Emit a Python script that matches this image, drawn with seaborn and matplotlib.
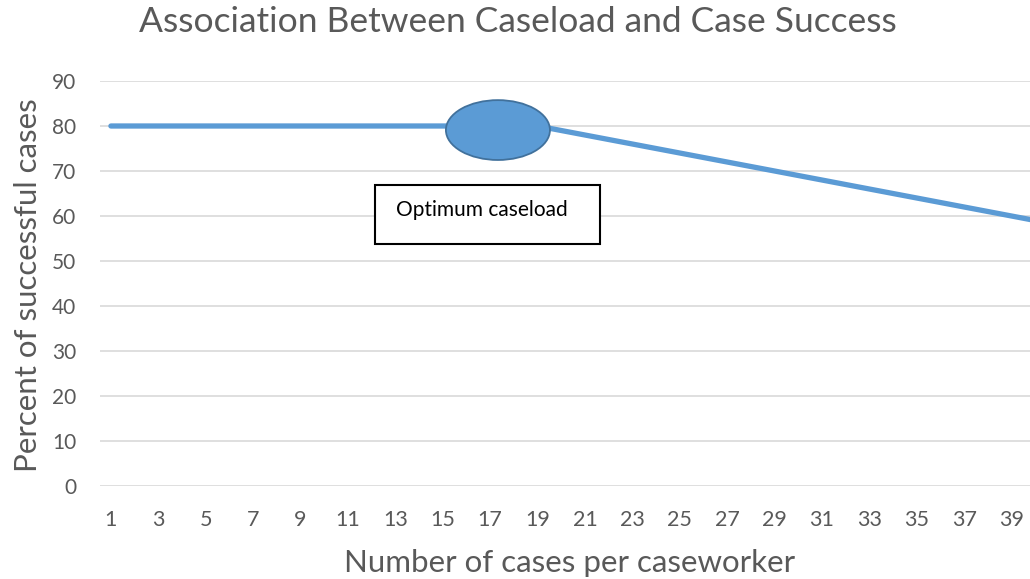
import numpy as np
import pandas as pd
import seaborn as sns
import matplotlib.pyplot as plt
from matplotlib.patches import Ellipse, Rectangle

# cases per caseworker and percent successful
cases = list(range(1, 41))
success = [80] * 19 + [79, 78, 77, 76, 75, 74, 73, 72, 71, 70, 69,
                       68, 67, 66, 65, 64, 63, 62, 61, 60, 59]
xticks = list(range(1, 40, 2))
yticks = list(range(0, 91, 10))

df = pd.DataFrame({'cases': cases, 'success': success})

sns.set_style('white')
plt.rcParams['font.family'] = ['Lato', 'DejaVu Sans']
grey = '#595959'
blue = '#5B9BD5'

fig = plt.figure(figsize=(10.30, 5.79), dpi=100)
ax = fig.add_axes([100 / 1030, (579 - 486) / 579, 930 / 1030, 405 / 579])

sns.lineplot(data=df, x='cases', y='success', ax=ax, color=blue, linewidth=3.8,
             solid_capstyle='round', zorder=3)

ax.set_xlim(0.54, 39.78)
ax.set_ylim(0, 90)
ax.set_xticks(xticks)
ax.set_yticks(yticks)
ax.grid(axis='y', color='#D9D9D9', linewidth=1.2)
ax.set_axisbelow(True)
for s in ax.spines.values():
    s.set_visible(False)
ax.tick_params(axis='both', length=0, labelsize=15, colors=grey)
ax.tick_params(axis='y', pad=17)
ax.tick_params(axis='x', pad=17, labelsize=15.5)

# ellipse marking the optimum
ax.add_patch(Ellipse((17.33, 79.1), 4.39, 13.3, facecolor=blue,
                     edgecolor='#41719C', linewidth=1.3, zorder=4))
# text box
ax.add_patch(Rectangle((12.14, 53.8), 9.49, 13.1, facecolor='white',
                       edgecolor='black', linewidth=1.5, zorder=4))
ax.text(13.03, 61.3, 'Optimum caseload', fontsize=15, color='black',
        va='center', ha='left', zorder=5)

ax.set_xlabel('Number of cases per caseworker', fontsize=22.5, color=grey, va='center')
ax.set_ylabel('Percent of successful cases', fontsize=22.5, color=grey, va='center')
ax.xaxis.set_label_coords((570 - 100) / 930, -(563 - 486) / 405)
ax.yaxis.set_label_coords(-(100 - 28) / 930, (486 - 285) / 405)
fig.text(518 / 1030, 1 - 22 / 579, 'Association Between Caseload and Case Success',
         fontsize=25.5, color=grey, ha='center', va='center')

fig.savefig('out.png', dpi=100)
